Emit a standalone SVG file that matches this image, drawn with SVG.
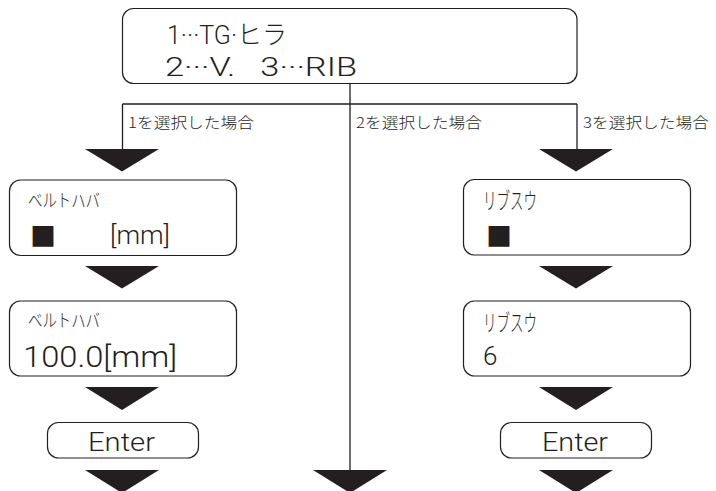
<svg xmlns="http://www.w3.org/2000/svg" width="716" height="491" viewBox="0 0 716 491">
<defs>
<style>
.box{fill:#fff;stroke:#231f20;stroke-width:1.2}
.ln{fill:none;stroke:#231f20;stroke-width:1.3}
.ar{fill:#231f20;stroke:none}
.t{fill:#231f20;font-family:Roboto,"Liberation Sans","Noto Sans CJK JP",sans-serif;font-weight:300}
.j{fill:#231f20;font-family:"Noto Sans CJK JP",sans-serif;font-weight:300}
.lbl{font-size:15px}
</style>
</defs>
<rect width="716" height="491" fill="#fff"/>
<g id="connectors">
<path class="ln" d="M350 83.5V472 M122.5 104H577 M122.5 104V150 M577 104V150"/>
<text class="j lbl" x="128" y="128" textLength="126" lengthAdjust="spacingAndGlyphs">1を選択した場合</text>
<text class="j lbl" x="356" y="128" textLength="126" lengthAdjust="spacingAndGlyphs">2を選択した場合</text>
<text class="j lbl" x="583" y="128" textLength="126" lengthAdjust="spacingAndGlyphs">3を選択した場合</text>
<polygon class="ar" points="85,149 159,149 122,171.5"/>
<polygon class="ar" points="85,266 159,266 122,288.5"/>
<polygon class="ar" points="85,387 159,387 122,410"/>
<polygon class="ar" points="85,470 159,470 122,493"/>
<polygon class="ar" points="539,149 613,149 576,171.5"/>
<polygon class="ar" points="539,266 613,266 576,288.5"/>
<polygon class="ar" points="539,387 613,387 576,410"/>
<polygon class="ar" points="539,470 613,470 576,493"/>
<polygon class="ar" points="313,470 387,470 350,493"/>
</g>
<g id="node-select">
<rect class="box" x="122.5" y="8.5" width="454.5" height="75" rx="11"/>
<text class="t" x="167" y="44" font-size="26" textLength="120" lengthAdjust="spacingAndGlyphs">1···TG·ヒラ</text>
<text class="t" x="165" y="76" font-size="26" textLength="192" lengthAdjust="spacingAndGlyphs" xml:space="preserve">2···V.   3···RIB</text>
</g>
<g id="node-belt-input">
<rect class="box" x="9.5" y="180" width="227" height="75.5" rx="11"/>
<text class="j" x="28" y="207" font-size="18" textLength="72" lengthAdjust="spacingAndGlyphs">ベルトハバ</text>
<text class="j" x="30" y="246" font-size="26">■</text>
<text class="t" x="110" y="244" font-size="26" textLength="60" lengthAdjust="spacingAndGlyphs">[mm]</text>
</g>
<g id="node-belt-value">
<rect class="box" x="9.5" y="301" width="227" height="75" rx="11"/>
<text class="j" x="28" y="327" font-size="18" textLength="72" lengthAdjust="spacingAndGlyphs">ベルトハバ</text>
<text class="t" x="23" y="367" font-size="29" textLength="154" lengthAdjust="spacingAndGlyphs">100.0[mm]</text>
</g>
<g id="node-enter-left">
<rect class="box" x="47.5" y="422.5" width="151" height="35.5" rx="11"/>
<text class="t" x="88" y="451" font-size="26" textLength="67" lengthAdjust="spacingAndGlyphs">Enter</text>
</g>
<g id="node-rib-input">
<rect class="box" x="463.5" y="179.5" width="227" height="75.5" rx="11"/>
<text class="j" x="483" y="209" font-size="23" textLength="54" lengthAdjust="spacingAndGlyphs">リブスウ</text>
<text class="j" x="486" y="246" font-size="26">■</text>
</g>
<g id="node-rib-value">
<rect class="box" x="463.5" y="301" width="227" height="75" rx="11"/>
<text class="j" x="483" y="331" font-size="23" textLength="54" lengthAdjust="spacingAndGlyphs">リブスウ</text>
<text class="t" x="483" y="365" font-size="26">6</text>
</g>
<g id="node-enter-right">
<rect class="box" x="500.5" y="422.5" width="151" height="35.5" rx="11"/>
<text class="t" x="542" y="451" font-size="26" textLength="66" lengthAdjust="spacingAndGlyphs">Enter</text>
</g>
</svg>
